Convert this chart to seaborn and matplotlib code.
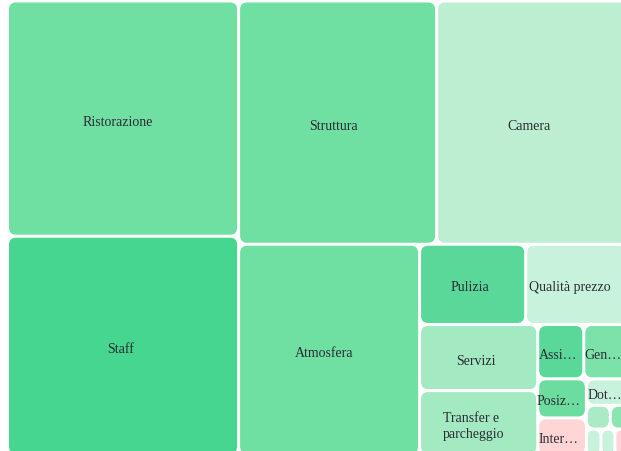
import matplotlib
matplotlib.use("Agg")
import matplotlib.pyplot as plt
from matplotlib.patches import FancyBboxPatch
import seaborn as sns

# ---- data (values read from tile areas) ----
categories = ["Ristorazione", "Staff", "Struttura", "Camera", "Atmosfera",
              "Pulizia", "Qualità prezzo", "Servizi", "Transfer e\nparcheggio",
              "Assi…", "Gen…", "Posiz…", "Inter…", "Dot…", "", "", "", "", ""]
values = [543, 505, 481, 465, 381, 85, 82, 78, 76, 25, 24, 19, 18, 11,
          5.7, 4.2, 3.8, 3.6, 3.4]
tile_colors = ["#6fdfa2", "#46d68f", "#6fdfa2", "#bdeed2", "#6fdfa2",
               "#5ad899", "#c9f2dc", "#a3e9c2", "#a3e9c2",
               "#5ad899", "#7de1aa", "#6ddc9f", "#ffd5d5", "#c9f2dc",
               "#a9ebc6", "#8ce4b2", "#c9f2dc", "#c9f2dc", "#ffd5d5"]

sns.set_theme(style="white")
plt.rcParams["font.family"] = ["Liberation Serif", "DejaVu Serif"]


def squarify(vals, x0, y0, x1, y1):
    rects = [None] * len(vals)
    n = len(vals)
    i0 = 0
    value = float(sum(vals))
    while i0 < n:
        dx, dy = x1 - x0, y1 - y0
        i1 = i0
        s = vals[i1]
        i1 += 1
        mn = mx = s
        alpha = max(dy / dx, dx / dy) / value
        beta = s * s * alpha
        minr = max(mx / beta, beta / mn)
        while i1 < n:
            v = vals[i1]
            s2 = s + v
            mn2, mx2 = min(mn, v), max(mx, v)
            beta = s2 * s2 * alpha
            r = max(mx2 / beta, beta / mn2)
            if r > minr:
                break
            s, mn, mx, minr = s2, mn2, mx2, r
            i1 += 1
        if dx < dy:
            h = dy * s / value
            xx = x0
            for i in range(i0, i1):
                w = dx * vals[i] / s
                rects[i] = (xx, y0, w, h)
                xx += w
            y0 += h
        else:
            w = dx * s / value
            yy = y0
            for i in range(i0, i1):
                h = dy * vals[i] / s
                rects[i] = (x0, yy, w, h)
                yy += h
            x0 += w
        value -= s
        i0 = i1
    return rects


FW, FH = 621, 452
fig = plt.figure(figsize=(FW / 100, FH / 100), dpi=100)
fig.patch.set_facecolor("white")
X0, Y0, X1, Y1 = 7.5, 2.0, 628.0, 456.0
W, H = X1 - X0, Y1 - Y0
ax = fig.add_axes([X0 / FW, (FH - Y1) / FH, W / FW, H / FH])
ax.set_xlim(0, W)
ax.set_ylim(H, 0)
ax.axis("off")

rects = squarify(values, 0, 0, W, H)
gap = 1.5
renderer = fig.canvas.get_renderer()
for lab, col, (x, y, w, h) in zip(categories, tile_colors, rects):
    ww, hh = w - 2 * gap, h - 2 * gap
    r = min(7, ww / 2, hh / 2)
    ax.add_patch(FancyBboxPatch((x + gap, y + gap), ww, hh,
                                boxstyle=f"round,pad=0,rounding_size={r}",
                                facecolor=col, edgecolor="none"))
    if lab:
        t = ax.text(x + w / 2, y + h / 2 + 2.5, lab, ha="center", va="center",
                    fontsize=10, color="#2a2d34", linespacing=1.35,
                    multialignment="left")
        bw = t.get_window_extent(renderer).width
        t.set_x(x + w / 2 - 0.08 * bw)

fig.savefig("out.png", dpi=100, facecolor="white")
